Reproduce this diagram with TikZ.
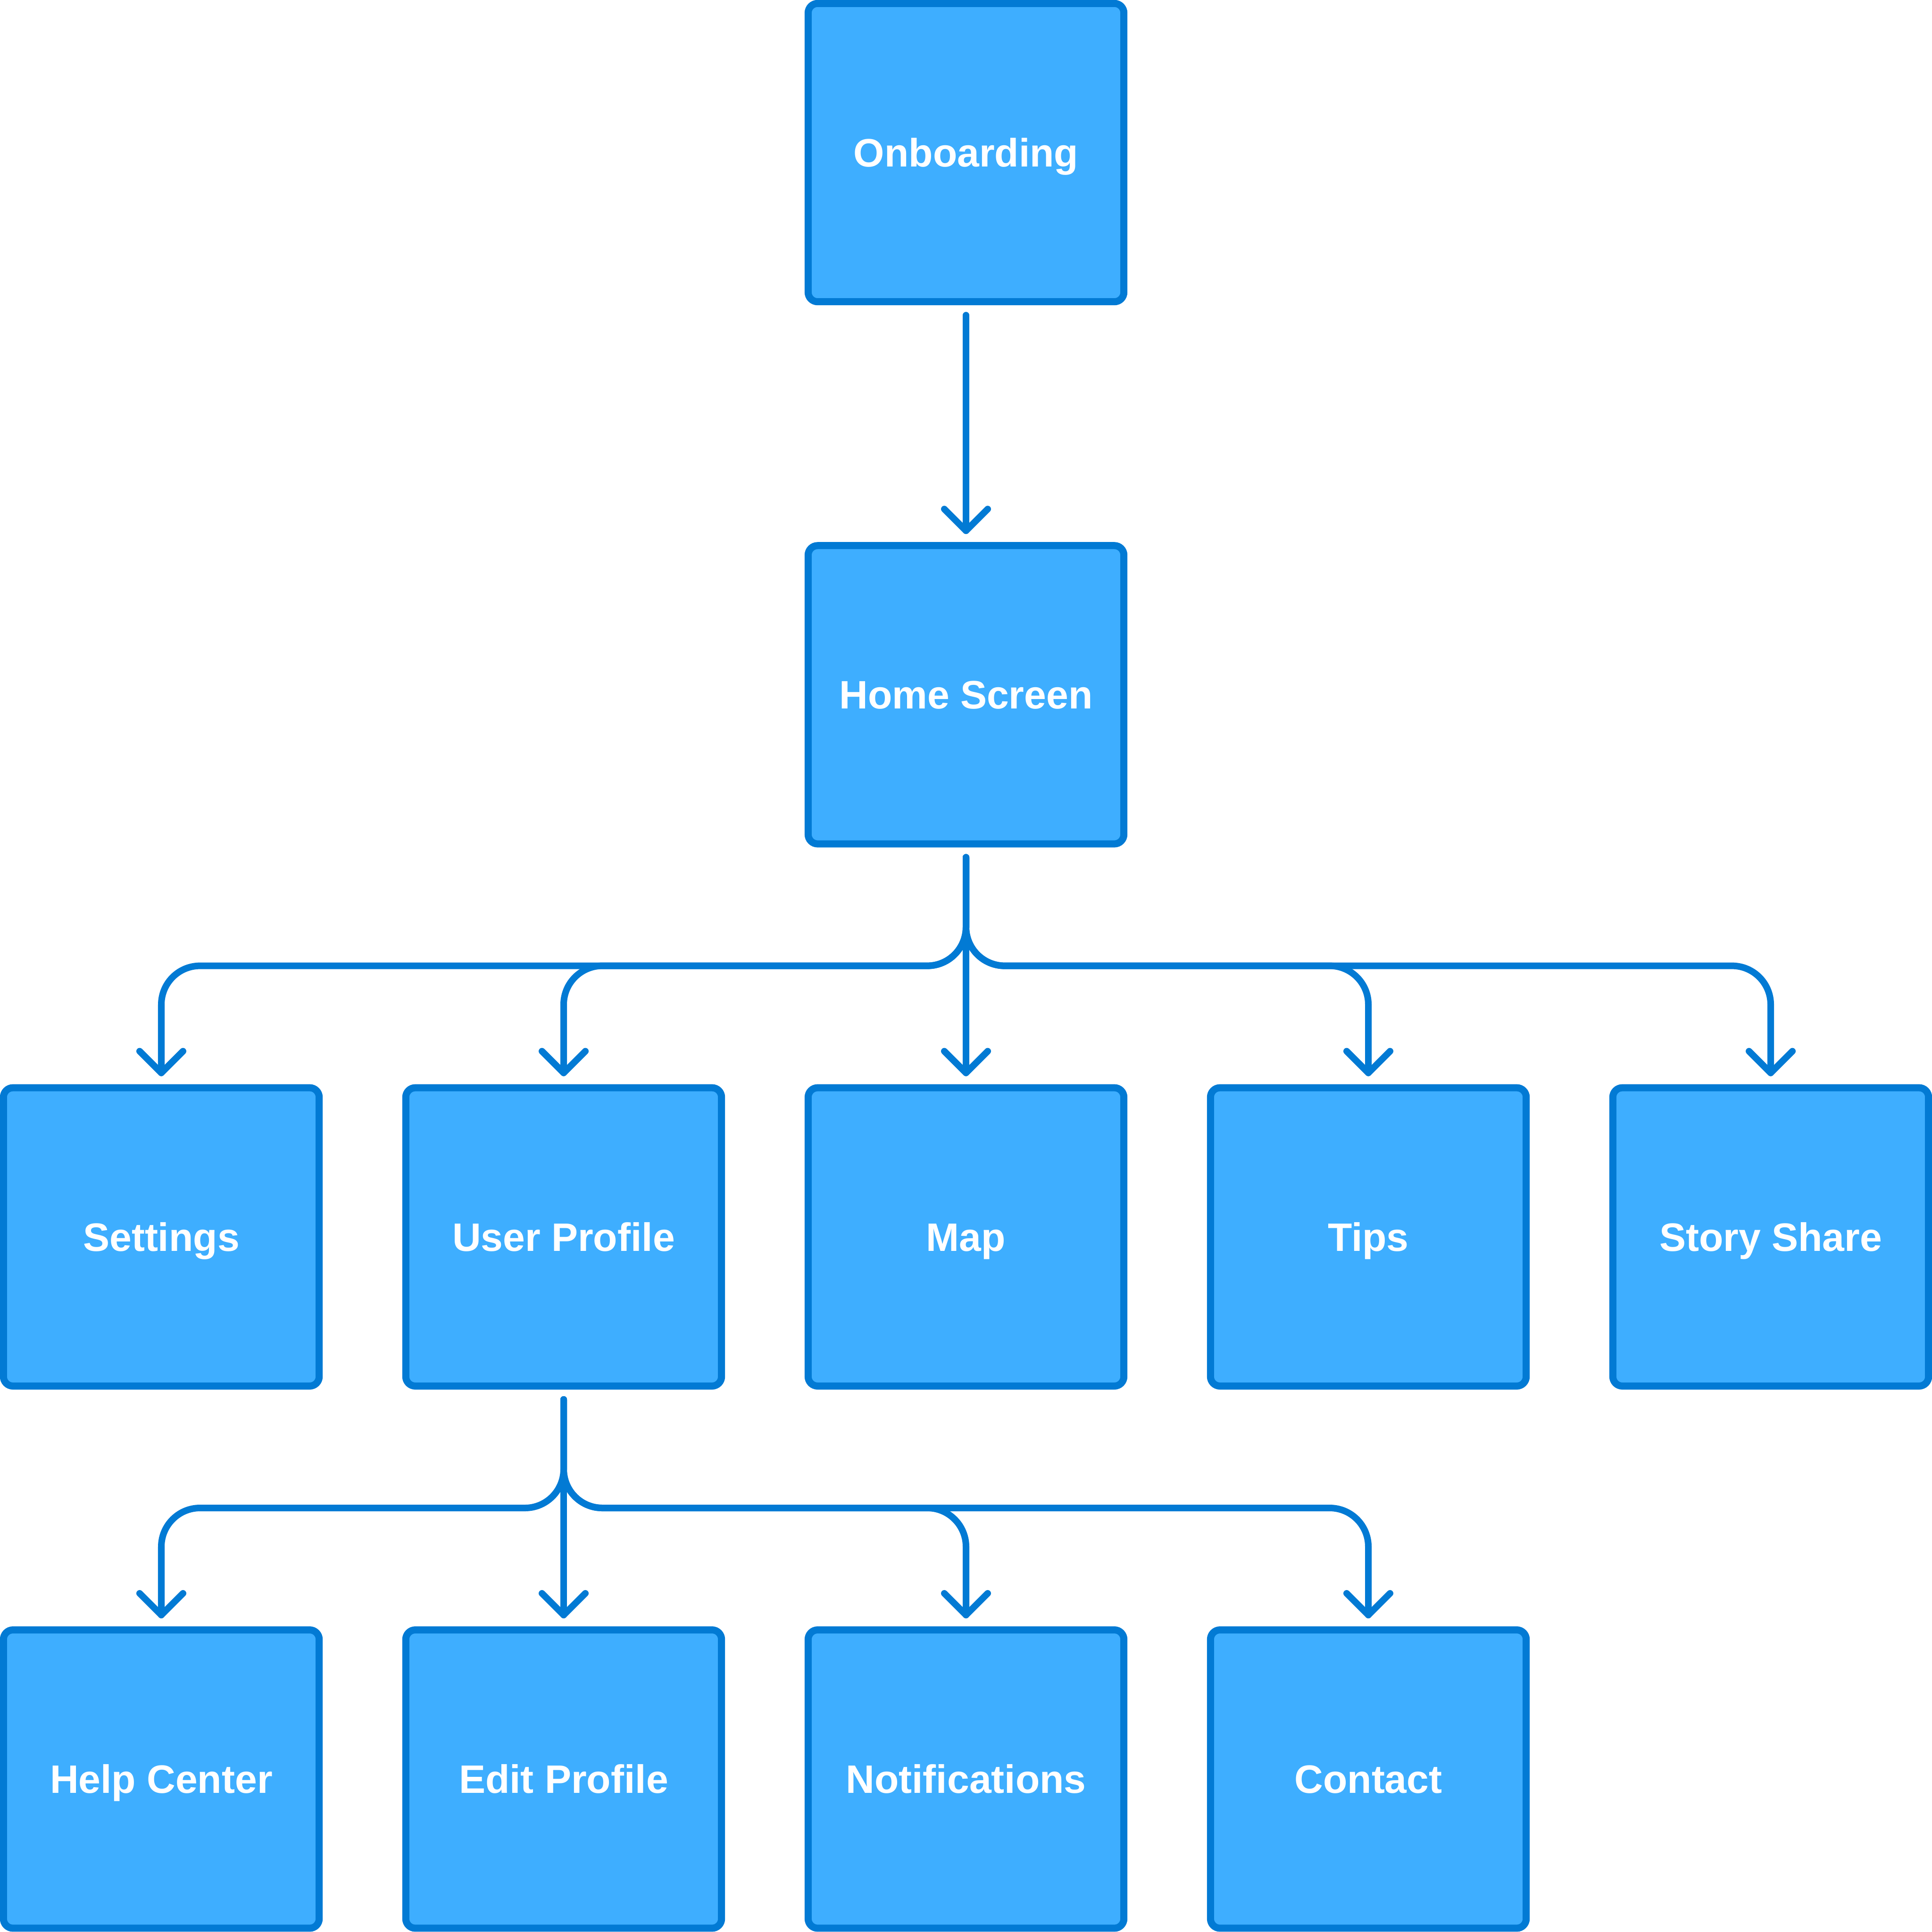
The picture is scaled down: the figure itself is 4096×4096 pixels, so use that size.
\documentclass[tikz,border=0pt]{standalone}
\usepackage{fontspec}
\setmainfont{Liberation Sans}
\usetikzlibrary{calc}
\definecolor{boxfill}{HTML}{3EAEFF}
\definecolor{boxline}{HTML}{027AD4}
\newcommand\chevron[1]{\draw[conn] ($(#1)+(-46,-46)$) -- (#1) -- ($(#1)+(46,-46)$);}
\begin{document}
\begin{tikzpicture}[x=0.01cm,y=-0.01cm,
  box/.style={draw=boxline, fill=boxfill, line width=0.15cm, rounded corners=0.2cm,
    minimum width=6.69cm, minimum height=6.32cm, inner sep=0pt, text=white,
    font=\fontsize{23.9pt}{28pt}\selectfont\bfseries, text height=0.6cm, text depth=0cm},
  conn/.style={draw=boxline, line width=0.14cm, line cap=round, line join=round},
  branch/.style={conn, rounded corners=0.82cm}]
\useasboundingbox (0,0) rectangle (4096,4096);
% nodes
\node[box] (onb) at (2048,323.5) {Onboarding};
\node[box] (home) at (2048,1472.9) {Home Screen};
\node[box] (settings) at (342,2622.3) {Settings};
\node[box] (user) at (1195,2622.3) {User Profile};
\node[box] (map) at (2048,2622.3) {Map};
\node[box] (tips) at (2901,2622.3) {Tips};
\node[box] (story) at (3754,2622.3) {Story Share};
\node[box] (help) at (342,3771.7) {Help Center};
\node[box] (edit) at (1195,3771.7) {Edit Profile};
\node[box] (notif) at (2048,3771.7) {Notifications};
\node[box] (contact) at (2901,3771.7) {Contact};
% arrow tip points
\foreach \n in {home,settings,user,map,tips,story,help,edit,notif,contact}
  {\coordinate (t-\n) at ($(\n.north)+(0,-24)$);}
% Onboarding -> Home
\draw[conn] ($(onb.south)+(0,21)$) -- (t-home);
% Home -> row 3
\coordinate (hs) at ($(home.south)+(0,21)$);
\coordinate (hj) at ($(home.south)!0.5!(map.north)$);
\foreach \n in {settings,user,tips,story}
  {\draw[branch] (hs) -- (hj) -| (t-\n);}
\draw[conn] (hs) -- (t-map);
% User Profile -> row 4
\coordinate (us) at ($(user.south)+(0,21)$);
\coordinate (uj) at ($(user.south)!0.5!(edit.north)$);
\foreach \n in {help,notif,contact}
  {\draw[branch] (us) -- (uj) -| (t-\n);}
\draw[conn] (us) -- (t-edit);
% chevrons
\foreach \n in {home,settings,user,map,tips,story,help,edit,notif,contact}
  {\chevron{t-\n}}
\end{tikzpicture}
\end{document}
